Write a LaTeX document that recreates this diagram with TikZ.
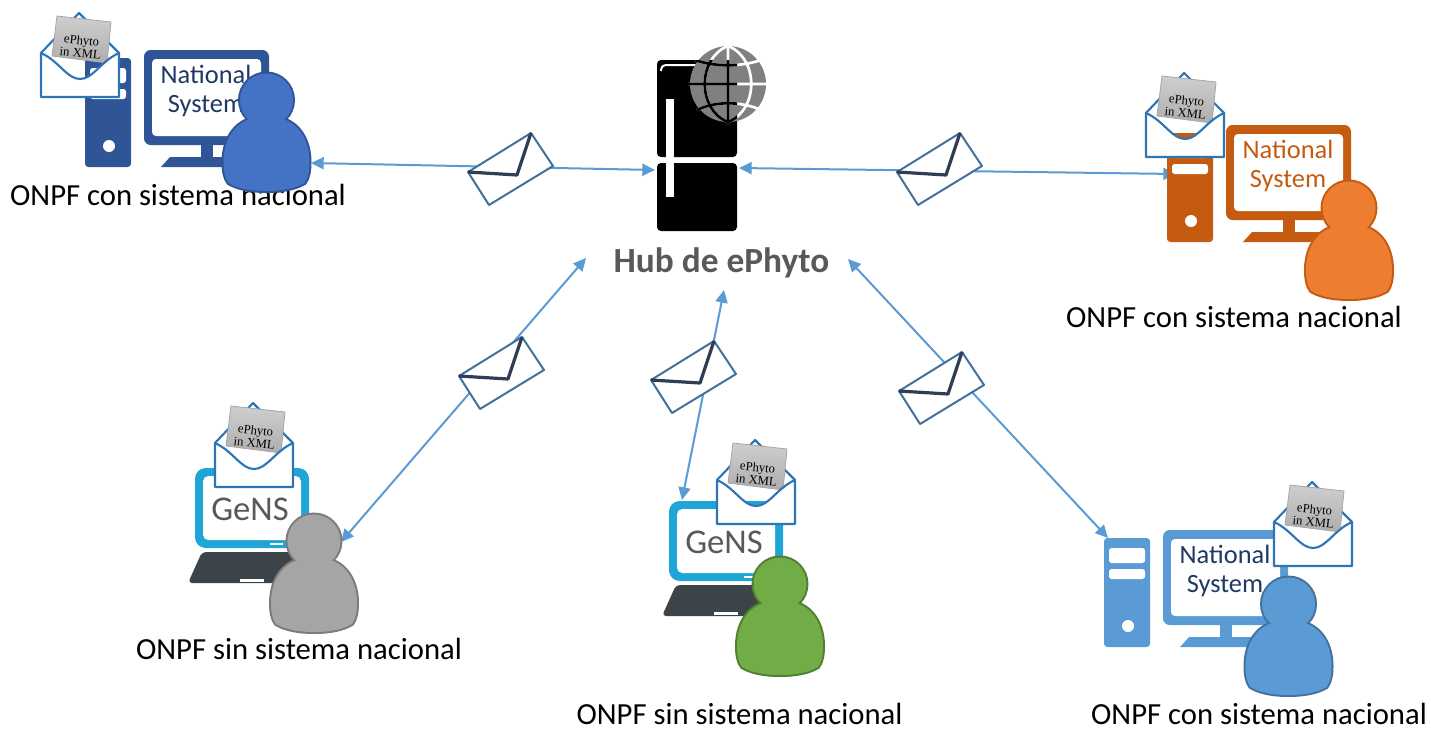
\documentclass[tikz,border=0pt]{standalone}
\usepackage{fontspec}
\setmainfont{Carlito}
\newfontfamily\paperfont{Liberation Serif}
\usetikzlibrary{arrows.meta}
\definecolor{navy}{HTML}{2F5597}
\definecolor{navytext}{HTML}{1F3864}
\definecolor{rust}{HTML}{C55A11}
\definecolor{skyb}{HTML}{5B9BD5}
\definecolor{skyline}{HTML}{41719C}
\definecolor{linkc}{HTML}{5B9BD5}
\definecolor{envc}{HTML}{2E75B6}
\definecolor{foldc}{HTML}{2F3E55}
\definecolor{lapblue}{HTML}{1FA5D8}
\definecolor{lapdark}{HTML}{3C4449}
\definecolor{greytext}{HTML}{595959}
\definecolor{persblue}{HTML}{4472C4}
\definecolor{persorange}{HTML}{ED7D31}
\definecolor{persgrey}{HTML}{A5A5A5}
\definecolor{persgreyline}{HTML}{7B7B7B}
\definecolor{persgreen}{HTML}{70AD47}
\definecolor{persgreenline}{HTML}{507E32}
\newcommand{\bodyoutline}{
  (-19,20) .. controls (-34,26) and (-43,42) .. (-43,62) .. controls (-43,70) and (-42,78) .. (-38,83) .. controls (-28,89) and (-14,91) .. (0,91) .. controls (14,91) and (28,89) .. (38,83) .. controls (42,78) and (43,70) .. (43,62) .. controls (43,42) and (34,26) .. (19,20) -- cycle
}
\tikzset{
  x=0.75pt,y=-0.75pt,
  link/.style={draw=linkc,line width=1.5pt,{Triangle[length=9.5pt,width=9pt]}-{Triangle[length=9.5pt,width=9pt]}},
  orglabel/.style={font=\fontsize{23}{27}\selectfont,text=black,inner sep=0pt},
  screenlabel/.style={font=\fontsize{19.8}{24}\selectfont,inner sep=0pt},
  genslabel/.style={font=\fontsize{26}{31}\selectfont,text=greytext,inner sep=0pt},
  hublabel/.style={font=\fontsize{26.5}{31}\selectfont\bfseries,text=greytext,inner sep=0pt},
  pics/person/.style n args={2}{code={
    \path[draw=#2,line width=3pt] (0,0) circle[radius=26.5];
    \path[draw=#2,line width=3pt] \bodyoutline;
    \fill[#1] (0,0) circle[radius=26.5];
    \fill[#1] \bodyoutline;
  }},
  pics/desktop/.style n args={2}{code={
    \fill[#1,rounded corners=2.5pt] (0,0) rectangle (46,109);
    \fill[white,rounded corners=2pt] (5,10) rectangle (41,25);
    \fill[white,rounded corners=2pt] (5,31) rectangle (41,41);
    \fill[white] (24,88) circle[radius=6];
    \fill[#1,rounded corners=5pt] (59,-8) rectangle (184,87);
    \fill[white,rounded corners=3pt] (67,1) rectangle (176,78);
    \fill[#1] (116,85) rectangle (128,100);
    \fill[#1] (76,109) -- (85,99) -- (159,99) -- (168,109) -- cycle;
    \node[screenlabel,text=#2] (-nat) at (121,16) {National};
    \node[screenlabel,text=#2] (-sys) at (121,48) {System};
  }},
  pics/laptop/.style={code={
    \fill[lapdark,rounded corners=3pt] (7,84) -- (107,84) -- (121,115) -- (-7,115) -- cycle;
    \fill[white] (45,111) rectangle (69,113.5);
    \fill[lapblue,rounded corners=8pt] (0,0) rectangle (114,80);
    \fill[white,rounded corners=4pt] (8,8) rectangle (106,72);
    \fill[white] (75,75) rectangle (88,77);
    \fill[white] (91,75) rectangle (97,77);
    \node[genslabel] (-gens) at (55,41) {GeNS};
  }},
  pics/openenv/.style={code={
    \draw[envc,line width=1.6pt,line join=round] (-38,40) -- (0,0) -- (40,40);
    \shade[top color=black!19,bottom color=black!32,draw=black!35,line width=0.6pt] (-22,3) -- (32,9) -- (28,50) -- (-27,43) -- cycle;
    \node[font=\paperfont\fontsize{9.5}{9.5}\selectfont,align=center,rotate=-6,inner sep=0pt,text=black] (-txt) at (2,33.5) {ePhyto\\in XML};
    \filldraw[fill=white,draw=envc,line width=1.6pt,line join=round] (-38,40) .. controls (-20,48) and (-12,66) .. (1,66) .. controls (14,66) and (22,48) .. (40,40) -- (40,84) -- (-38,84) -- cycle;
  }},
  pics/sealed/.style={code={
    \filldraw[fill=white,draw=skyline,line width=1.5pt,line join=round] (0,0) -- (63,-39) -- (85,-6) -- (21,33) -- cycle;
    \draw[foldc,line width=2.4pt,line join=round] (0,0) -- (49,3) -- (63,-39);
  }}
}
\newcommand{\globelines}{
  (728,44) -- (728,124)
  (688,84) -- (768,84)
  (728,46) .. controls (697,58) and (697,110) .. (728,122)
  (728,46) .. controls (759,58) and (759,110) .. (728,122)
  (695,60) .. controls (715,67) and (741,67) .. (761,60)
  (697,110) .. controls (715,101) and (741,101) .. (761,110)
}
\begin{document}
\begin{tikzpicture}
\useasboundingbox (0,0) rectangle (1431,729);
% connector anchors
\coordinate (persA) at (311,163);
\coordinate (hubL) at (655,170);
\coordinate (hubR) at (739,168);
\coordinate (towerB) at (1176,174);
\coordinate (hubSW) at (586,258);
\coordinate (persC) at (341,542);
\coordinate (hubS) at (724,290);
\coordinate (lapD) at (682,500);
\coordinate (hubSE) at (848,259);
\coordinate (towerE) at (1108,538);
% links
\draw[link] (persA) -- (hubL);
\draw[link] (hubR) -- (towerB);
\draw[link] (hubSW) -- (persC);
\draw[link] (hubS) -- (lapD);
\draw[link] (hubSE) -- (towerE);
% messages on the links
\pic (m1) at (468,172) {sealed};
\pic (m2) at (897,172) {sealed};
\pic (m3) at (459,376) {sealed};
\pic (m4) at (651,380) {sealed};
\pic (m5) at (899,391) {sealed};
% hub
\fill[black,rounded corners=3pt] (657,60) rectangle (737,157);
\fill[black,rounded corners=3pt] (657,163) rectangle (737,231);
\draw[white,line width=1.5pt] (661,71) .. controls (661,67) and (663,65) .. (667,65) -- (737,65);
\fill[white] (666,99) rectangle (674,197);
\fill[black!50] (728,84) circle[radius=38];
\draw[white,line width=2pt] \globelines;
\begin{scope}
  \clip (657,60) rectangle (737,157);
  \draw[black,line width=2pt] \globelines;
\end{scope}
\node[hublabel] (hub) at (721.5,262.5) {Hub de ePhyto};
% labels
\node[orglabel] (l1) at (178,195) {ONPF con sistema nacional};
\node[orglabel] (l2) at (1234,317) {ONPF con sistema nacional};
\node[orglabel] (l3) at (299,649) {ONPF sin sistema nacional};
\node[orglabel] (l4) at (739.5,713.5) {ONPF sin sistema nacional};
\node[orglabel] (l5) at (1259,713.5) {ONPF con sistema nacional};
% station 1
\pic (d1) at (85,58) {desktop={navy}{navytext}};
\pic (e1) at (79,13) {openenv};
\pic (p1) at (266.5,100) {person={persblue}{navy}};
% station 2
\pic (d2) at (1167,133) {desktop={rust}{rust}};
\pic (e2) at (1184,73) {openenv};
\pic (p2) at (1349,208) {person={persorange}{rust}};
% station 3
\pic (la3) at (195,468) {laptop};
\pic (e3) at (253,403) {openenv};
\pic (p3) at (314,541) {person={persgrey}{persgreyline}};
% station 4
\pic (la4) at (669,501) {laptop};
\pic (e4) at (755,440) {openenv};
\pic (p4) at (780,584) {person={persgreen}{persgreenline}};
% station 5
\pic (d5) at (1104,538) {desktop={skyb}{navytext}};
\pic (e5) at (1312,482) {openenv};
\pic (p5) at (1288.5,604) {person={skyb}{skyline}};
\end{tikzpicture}
\end{document}
